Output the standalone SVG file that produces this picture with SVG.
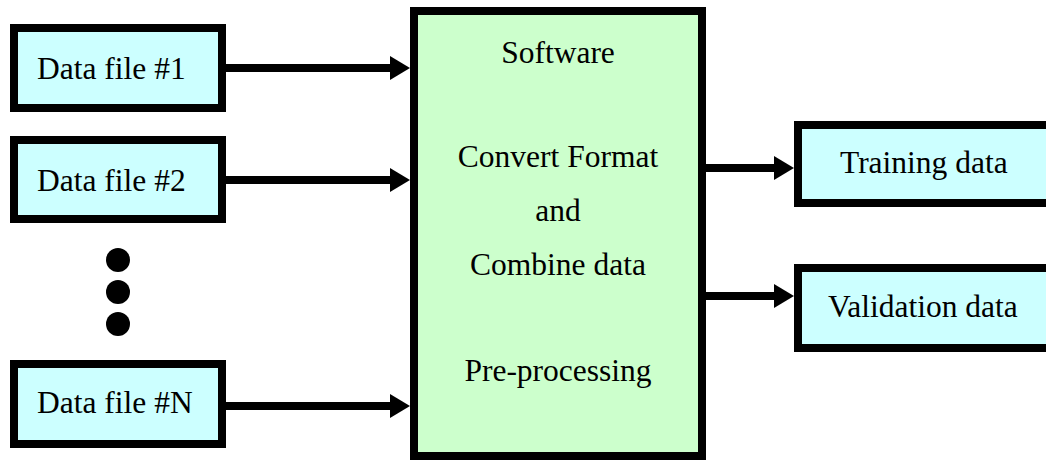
<svg xmlns="http://www.w3.org/2000/svg" width="1046" height="461" viewBox="0 0 1046 461">
<defs>
<style>
.in{fill:#CCFFFF;stroke:#000;stroke-width:8}
.sw{fill:#CCFFCC;stroke:#000;stroke-width:8}
.t{font-family:"Liberation Serif","Times New Roman",serif;font-size:31.5px;fill:#000}
.c{text-anchor:middle}
.ln{stroke:#000;stroke-width:8;fill:none}
</style>
<marker id="ah" markerUnits="userSpaceOnUse" markerWidth="20" markerHeight="24" refX="2" refY="12" orient="auto" viewBox="0 0 20 24">
<path d="M0,0 L20,12 L0,24 Z" fill="#000"/>
</marker>
</defs>
<rect width="1046" height="461" fill="#fff"/>
<g id="connectors">
<line class="ln" x1="226" y1="68" x2="392" y2="68" marker-end="url(#ah)"/>
<line class="ln" x1="226" y1="180" x2="392" y2="180" marker-end="url(#ah)"/>
<line class="ln" x1="226" y1="406" x2="392" y2="406" marker-end="url(#ah)"/>
<line class="ln" x1="706" y1="168" x2="776" y2="168" marker-end="url(#ah)"/>
<line class="ln" x1="706" y1="296" x2="776" y2="296" marker-end="url(#ah)"/>
</g>
<g id="file1"><rect class="in" x="14" y="28" width="208" height="80"/><text class="t" x="37" y="79">Data file #1</text></g>
<g id="file2"><rect class="in" x="14" y="140" width="208" height="79"/><text class="t" x="37" y="191">Data file #2</text></g>
<g id="ellipsis"><circle cx="118" cy="260" r="12"/><circle cx="118" cy="292" r="12"/><circle cx="118" cy="324" r="12"/></g>
<g id="fileN"><rect class="in" x="14" y="364" width="208" height="80"/><text class="t" x="37" y="413">Data file #N</text></g>
<g id="software"><rect class="sw" x="414" y="11" width="288" height="445"/>
<text class="t c" x="558" y="63">Software</text>
<text class="t c" x="558" y="167">Convert Format</text>
<text class="t c" x="558" y="221">and</text>
<text class="t c" x="558" y="275">Combine data</text>
<text class="t c" x="558" y="381">Pre-processing</text>
</g>
<g id="training"><rect class="in" x="798" y="125" width="260" height="78"/><text class="t" x="840" y="173">Training data</text></g>
<g id="validation"><rect class="in" x="798" y="268" width="260" height="80"/><text class="t" x="828" y="317">Validation data</text></g>
</svg>
